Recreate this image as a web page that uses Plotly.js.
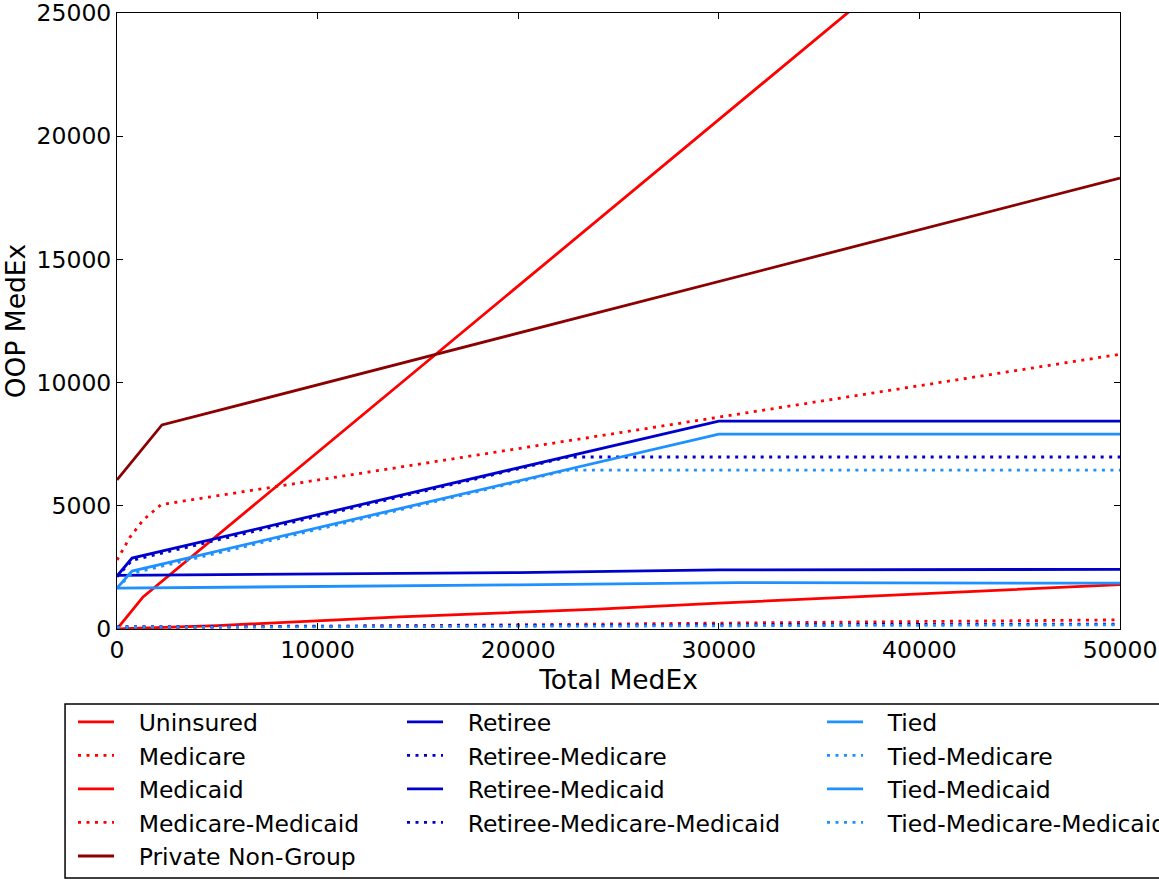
<!DOCTYPE html>
<html>
<head>
<meta charset="utf-8">
<script src="https://cdn.plot.ly/plotly-3.0.1.min.js"></script>
<style>html,body{margin:0;padding:0;background:#fff;}#chart{width:1159px;height:880px;}</style>
</head>
<body>
<div id="chart"></div>
<script>
// ---- data ----
const uninsuredX = [0, 1300, 50000];
const uninsuredY = [0, 1300, 34170];

const medicareX = [0, 650, 1300, 2200, 50000];
const medicareY = [2800, 3730, 4420, 5050, 11150];

const medicaidX = [0, 5000, 14100, 24000, 30000, 50000];
const medicaidY = [0, 140, 490, 810, 1050, 1800];

const medMedX = [0, 10000, 20000, 30000, 40000, 50000];
const medMedY = [40, 110, 180, 250, 310, 370];

const privateX = [0, 2240, 50000];
const privateY = [6050, 8280, 18300];

const retireeX = [0, 750, 30000, 50000];
const retireeY = [2150, 2880, 8440, 8440];

const retMedX = [0, 750, 22500, 50000];
const retMedY = [2120, 2790, 6980, 6980];

const retMcdX = [0, 10000, 20000, 30000, 50000];
const retMcdY = [2180, 2230, 2290, 2400, 2420];

const retMMX = [0, 10000, 20000, 30000, 40000, 50000];
const retMMY = [90, 120, 150, 170, 190, 200];

const tiedX = [0, 750, 30000, 50000];
const tiedY = [1660, 2350, 7910, 7910];

const tiedMedX = [0, 750, 22500, 50000];
const tiedMedY = [1660, 2260, 6450, 6450];

const tiedMcdX = [0, 10000, 20000, 31000, 50000];
const tiedMcdY = [1660, 1720, 1790, 1880, 1860];

const tiedMMX = [0, 10000, 20000, 30000, 40000, 50000];
const tiedMMY = [70, 95, 120, 140, 155, 170];

const xTicks = [0, 10000, 20000, 30000, 40000, 50000];
const yTicks = [0, 5000, 10000, 15000, 20000, 25000];

// ---- styling ----
const RED = '#FF0000', DARKRED = '#8B0000', BLUE = '#0000CD', LBLUE = '#1E90FF';
const LW = 2.8;
const DOT = '3px,5.5px';
const PAD = '\u00a0\u00a0\u2009';

function tr(name, x, y, color, dotted, legend) {
  return {
    type: 'scatter', mode: 'lines', name: PAD + name, x: x, y: y,
    line: {color: color, width: LW, dash: dotted ? DOT : 'solid'},
    legend: legend, legendgroup: name, hoverinfo: 'skip'
  };
}

const data = [
  tr('Uninsured', uninsuredX, uninsuredY, RED, false, 'legend'),
  tr('Medicare', medicareX, medicareY, RED, true, 'legend'),
  tr('Medicaid', medicaidX, medicaidY, RED, false, 'legend'),
  tr('Medicare-Medicaid', medMedX, medMedY, RED, true, 'legend'),
  tr('Private Non-Group', privateX, privateY, DARKRED, false, 'legend'),
  tr('Retiree', retireeX, retireeY, BLUE, false, 'legend2'),
  tr('Retiree-Medicare', retMedX, retMedY, BLUE, true, 'legend2'),
  tr('Retiree-Medicaid', retMcdX, retMcdY, BLUE, false, 'legend2'),
  tr('Retiree-Medicare-Medicaid', retMMX, retMMY, BLUE, true, 'legend2'),
  tr('Tied', tiedX, tiedY, LBLUE, false, 'legend3'),
  tr('Tied-Medicare', tiedMedX, tiedMedY, LBLUE, true, 'legend3'),
  tr('Tied-Medicaid', tiedMcdX, tiedMcdY, LBLUE, false, 'legend3'),
  tr('Tied-Medicare-Medicaid', tiedMMX, tiedMMY, LBLUE, true, 'legend3')
];

const FONT = 'DejaVu Sans, sans-serif';
function legendCfg(x) {
  return {
    x: x, y: -0.1153, xanchor: 'left', yanchor: 'top',
    bgcolor: 'rgba(0,0,0,0)', borderwidth: 0, itemwidth: 36,
    font: {family: FONT, size: 23.5, color: '#000'},
    traceorder: 'grouped', tracegroupgap: 0, itemclick: false, itemdoubleclick: false
  };
}

const axisCommon = {
  showgrid: false, zeroline: false, showline: true, linecolor: '#000', linewidth: 1,
  mirror: 'allticks', ticks: 'inside', ticklen: 6, tickwidth: 1, tickcolor: '#000',
  tickfont: {family: FONT, size: 23.5, color: '#000'}, tickformat: 'd', automargin: false,
  ticklabeloverflow: 'allow'
};

const layout = {
  width: 1159, height: 880,
  margin: {l: 117, r: 39, t: 13, b: 251, autoexpand: false},
  paper_bgcolor: '#fff', plot_bgcolor: '#fff',
  font: {family: FONT, color: '#000'},
  showlegend: true,
  xaxis: Object.assign({}, axisCommon, {
    range: [0, 50000], tickvals: xTicks,
    title: {text: 'Total MedEx', font: {family: FONT, size: 26.5, color: '#000'}, standoff: 6}
  }),
  yaxis: Object.assign({}, axisCommon, {
    range: [0, 25000], tickvals: yTicks,
    title: {text: 'OOP MedEx', font: {family: FONT, size: 26.5, color: '#000'}, standoff: 6}
  }),
  legend: legendCfg(-0.04387),
  legend2: legendCfg(0.28415),
  legend3: legendCfg(0.70289),
  shapes: [{
    type: 'rect', xref: 'paper', yref: 'paper',
    x0: -0.0518, x1: 1.06, y0: -0.4042, y1: -0.1218,
    line: {color: '#000', width: 1.5}, fillcolor: 'rgba(0,0,0,0)', layer: 'above'
  }]
};

Plotly.newPlot('chart', data, layout, {displayModeBar: false, staticPlot: true});
</script>
</body>
</html>
